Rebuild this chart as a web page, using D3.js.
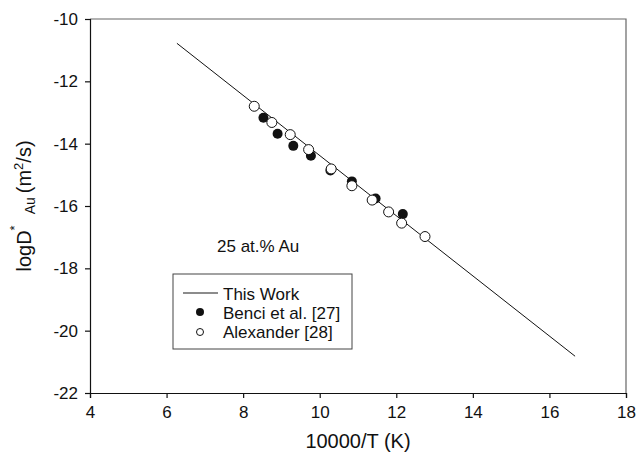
<!DOCTYPE html>
<html>
<head>
<meta charset="utf-8">
<script src="https://cdn.jsdelivr.net/npm/d3@7"></script>
<style>
  body { margin: 0; background: #fff; }
  text { font-family: "Liberation Sans", Arial, sans-serif; fill: #111; }
</style>
</head>
<body>
<div id="chart"></div>
<script>
// fitted line ("This Work"), end points
const lineX = [6.27, 16.67];
const lineY = [-10.78, -20.82];

// Benci et al. [27] (filled)
const benciX = [8.53, 8.90, 9.31, 9.77, 10.28, 10.84, 11.46, 12.17];
const benciY = [-13.17, -13.68, -14.07, -14.39, -14.86, -15.21, -15.76, -16.26];

// Alexander [28] (open)
const alexX = [8.29, 8.75, 9.23, 9.71, 10.30, 10.84, 11.37, 11.80, 12.14, 12.75];
const alexY = [-12.80, -13.32, -13.71, -14.19, -14.81, -15.35, -15.81, -16.19, -16.55, -16.98];

const xTicks = [4, 6, 8, 10, 12, 14, 16, 18];
const yTicks = [-22, -20, -18, -16, -14, -12, -10];

const width = 636;
const height = 453;
const margin = { top: 19, right: 10, bottom: 60, left: 90 };

const svg = d3
  .select("#chart")
  .append("svg")
  .attr("width", width)
  .attr("height", height);

const x = d3.scaleLinear().domain([4, 18]).range([margin.left, width - margin.right]);
const y = d3.scaleLinear().domain([-22, -10]).range([height - margin.bottom, margin.top]);

// frame (top and right sides drawn gray)
svg.append("path")
  .attr("d", `M${x(4)},${y(-10)}H${x(18)}V${y(-22)}`)
  .attr("fill", "none")
  .attr("stroke", "#666")
  .attr("stroke-width", 1.2);

const xAxis = svg.append("g")
  .attr("transform", `translate(0,${y(-22)})`)
  .call(d3.axisBottom(x).tickValues(xTicks).tickSize(5).tickPadding(8).tickFormat((d) => String(d)));

const yAxis = svg.append("g")
  .attr("transform", `translate(${x(4)},0)`)
  .call(d3.axisLeft(y).tickValues(yTicks).tickSize(5).tickPadding(7).tickFormat((d) => String(d)));

[xAxis, yAxis].forEach((g) => {
  g.select(".domain").attr("stroke", "#111").attr("stroke-width", 1.2);
  g.selectAll(".tick line").attr("stroke", "#111").attr("stroke-width", 1.2);
  g.selectAll(".tick text")
    .attr("font-size", 17)
    .attr("font-family", "Liberation Sans, Arial, sans-serif")
    .attr("fill", "#111");
});

// axis titles
svg.append("text")
  .attr("x", (x(4) + x(18)) / 2)
  .attr("y", 448)
  .attr("text-anchor", "middle")
  .attr("font-size", 20)
  .text("10000/T (K)");

const yTitle = svg.append("text")
  .attr("transform", `translate(31,${(y(-10) + y(-22)) / 2}) rotate(-90)`)
  .attr("text-anchor", "middle")
  .attr("font-size", 20);
yTitle.append("tspan").text("logD");
yTitle.append("tspan").attr("font-size", 13).attr("dy", -12).text("*");
yTitle.append("tspan").attr("font-size", 14).attr("dx", 11).attr("dy", 16).text("Au");
yTitle.append("tspan").attr("dx", 4).attr("dy", -4).text("(m");
yTitle.append("tspan").attr("font-size", 13).attr("dy", -8).text("2");
yTitle.append("tspan").attr("dy", 8).text("/s)");

// line
const line = d3.line().x((d) => x(d[0])).y((d) => y(d[1]));
svg.append("path")
  .datum(d3.zip(lineX, lineY))
  .attr("d", line)
  .attr("fill", "none")
  .attr("stroke", "#111")
  .attr("stroke-width", 1);

// points
svg.append("g")
  .selectAll("circle")
  .data(d3.zip(benciX, benciY))
  .enter()
  .append("circle")
  .attr("cx", (d) => x(d[0]))
  .attr("cy", (d) => y(d[1]))
  .attr("r", 5)
  .attr("fill", "#111");

svg.append("g")
  .selectAll("circle")
  .data(d3.zip(alexX, alexY))
  .enter()
  .append("circle")
  .attr("cx", (d) => x(d[0]))
  .attr("cy", (d) => y(d[1]))
  .attr("r", 5)
  .attr("fill", "#fff")
  .attr("stroke", "#111")
  .attr("stroke-width", 1);

// annotation
svg.append("text")
  .attr("x", 217)
  .attr("y", 252)
  .attr("font-size", 17)
  .text("25 at.% Au");

// legend
const legend = svg.append("g").attr("transform", "translate(173,274)");
legend.append("rect")
  .attr("width", 179)
  .attr("height", 75)
  .attr("fill", "#fff")
  .attr("stroke", "#444")
  .attr("stroke-width", 1);

legend.append("line")
  .attr("x1", 10).attr("x2", 45)
  .attr("y1", 19).attr("y2", 19)
  .attr("stroke", "#666")
  .attr("stroke-width", 1.5);
legend.append("circle").attr("cx", 27).attr("cy", 38).attr("r", 4).attr("fill", "#111");
legend.append("circle").attr("cx", 27).attr("cy", 58).attr("r", 3.5)
  .attr("fill", "#fff").attr("stroke", "#111").attr("stroke-width", 1);

const legendLabels = ["This Work", "Benci et al. [27]", "Alexander [28]"];
legend.selectAll("text.lab")
  .data(legendLabels)
  .enter()
  .append("text")
  .attr("class", "lab")
  .attr("x", 50)
  .attr("y", (d, i) => 26 + i * 19)
  .attr("font-size", 17)
  .text((d) => d);
</script>
</body>
</html>
